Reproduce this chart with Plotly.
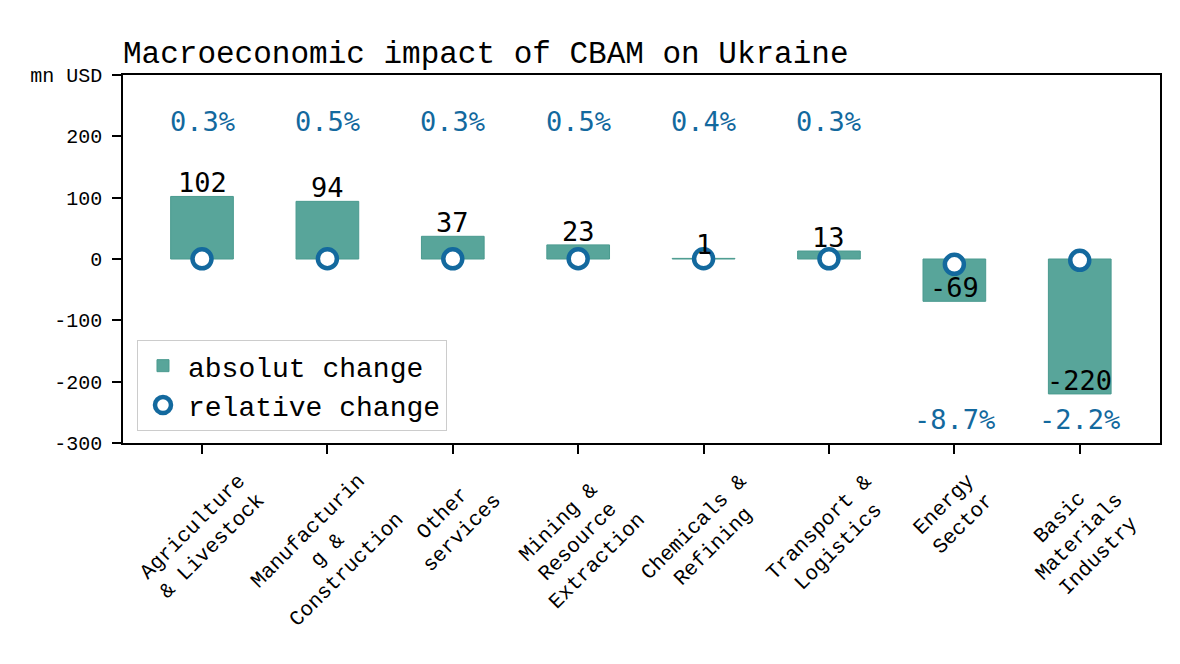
import plotly.graph_objects as go

categories = ["Agriculture<br>& Livestock", "Manufacturin<br>g &<br>Construction", "Other<br>services",
              "Mining &<br>Resource<br>Extraction", "Chemicals &<br>Refining", "Transport &<br>Logistics",
              "Energy<br>Sector", "Basic<br>Materials<br>Industry"]
abs_change = [102, 94, 37, 23, 1, 13, -69, -220]
rel_change = [0.3, 0.5, 0.3, 0.5, 0.4, 0.3, -8.7, -2.2]
y_tick_vals = [-300, -200, -100, 0, 100, 200, 300]
y_tick_text = ["-300", "-200", "-100", "0", "100", "200", "mn USD"]

MONO = "Courier New, Courier, Nimbus Mono PS, FreeMono, Liberation Mono, monospace"
LAB = "DejaVu Sans Mono, monospace"
BAR = "#58a59a"
BLUE = "#13699e"
x = list(range(len(categories)))

fig = go.Figure()
fig.add_trace(go.Bar(x=x, y=abs_change, width=0.5, name="absolut change",
                     marker=dict(color=BAR, line=dict(color="#4a9a8f", width=1))))
fig.add_trace(go.Scatter(x=x, y=rel_change, mode="markers", name="relative change",
                         marker=dict(symbol="circle", size=19, color="white",
                                     line=dict(color=BLUE, width=4.5))))

ann = []
for i, (a, r) in enumerate(zip(abs_change, rel_change)):
    ann.append(dict(x=i, y=a + 22, xref="x", yref="y", text=str(a), showarrow=False,
                    font=dict(family=LAB, size=27, color="black"), yanchor="middle"))
    ann.append(dict(x=i, y=225 if r >= 0 else -262, xref="x", yref="y", text=f"{r}%",
                    showarrow=False, font=dict(family=LAB, size=27, color=BLUE), yanchor="middle"))
    ann.append(dict(x=i, y=-0.065, xref="x", yref="paper", text=categories[i], showarrow=False,
                    textangle=-45, xanchor="center", yanchor="top", align="center",
                    font=dict(family=MONO, size=21, color="black")))

fig.update_layout(
    width=1180, height=664,
    margin=dict(l=123, r=20, t=75, b=221),
    plot_bgcolor="white", paper_bgcolor="white",
    title=dict(text="Macroeconomic impact of CBAM on Ukraine", x=123 / 1180, xanchor="left",
               y=1 - 52 / 664, yanchor="middle", font=dict(family=MONO, size=31, color="black")),
    xaxis=dict(range=[-0.63, 7.64], tickvals=x, ticktext=[""] * len(x), ticks="outside",
               ticklen=9, tickcolor="black", tickwidth=1.5, showline=True, linecolor="black",
               linewidth=1.5, mirror=True, showgrid=False, zeroline=False),
    yaxis=dict(range=[-300, 300], tickvals=y_tick_vals, ticktext=y_tick_text, ticks="outside",
               ticklen=9, tickcolor="black", tickwidth=1.5, showline=True, linecolor="black",
               linewidth=1.5, mirror=True, showgrid=False, zeroline=False, ticklabelstandoff=6,
               tickfont=dict(family=MONO, size=20, color="black")),
    legend=dict(x=0.0135, y=0.28, xanchor="left", yanchor="top", bordercolor="#cccccc",
                borderwidth=1, bgcolor="white", font=dict(family=MONO, size=28, color="black"),
                itemsizing="trace", itemwidth=40),
    annotations=ann,
    bargap=0.5,
)
fig.write_html("out.html")
